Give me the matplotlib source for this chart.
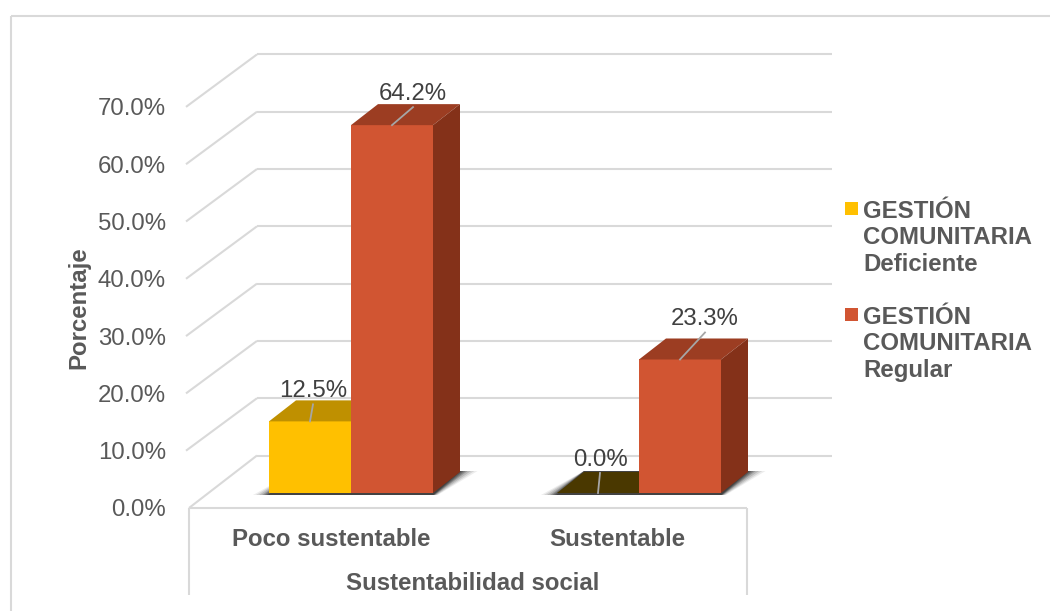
import matplotlib
matplotlib.use("Agg")
import matplotlib.pyplot as plt
from matplotlib.patches import Polygon, Rectangle

plt.rcParams['font.family'] = ['Liberation Sans', 'DejaVu Sans']

categories = ["Poco sustentable", "Sustentable"]
deficiente = [12.5, 0.0]
regular = [64.2, 23.3]
ticks = [0, 10, 20, 30, 40, 50, 60, 70]
series_names = ["GESTIÓN\nCOMUNITARIA\nDeficiente", "GESTIÓN\nCOMUNITARIA\nRegular"]

W, H = 1050, 611
PX_CAT = 288.0   # pixels per category
PX_PCT = 5.73    # pixels per percent
FS = 17.3

GRID = "#D9D9D9"
TXT = "#595959"
YELLOW = ("#FFC000", "#BF9000", "#8C6A00")
RED = ("#D15532", "#9C3D22", "#843119")
ZERO = "#4A3800"


def xp(px):
    return (px - 351) / PX_CAT


def yp(px):
    return (508 - px) / PX_PCT


fig = plt.figure(figsize=(W / 100, H / 100), dpi=100)
ax = fig.add_axes([0, 0, 1, 1])
ax.set_xlim(xp(0), xp(W))
ax.set_ylim(yp(H), yp(0))
ax.axis("off")

DX = 27 / PX_CAT
DY = 21 / PX_PCT
BAR_W = 82 / PX_CAT
BASE = yp(493)


def line(x0, y0, x1, y1, color=GRID, lw=1.5, z=1):
    ax.plot([xp(x0), xp(x1)], [yp(y0), yp(y1)], color=color, lw=lw, zorder=z,
            solid_capstyle="butt")


def shadow(left, right):
    # soft shadow on the floor, built from stacked see-through shapes
    for grow, alpha in [(16, .08), (13, .12), (10, .16), (7, .22), (5, .28), (3, .35), (1, .45)]:
        g = grow / PX_CAT
        pts = [(left - g, BASE - 2 / PX_PCT), (right + g * 0.3, BASE - 2 / PX_PCT),
               (right + DX + g * 1.1, BASE + DY + 1 / PX_PCT), (left + DX, BASE + DY + 1 / PX_PCT)]
        ax.add_patch(Polygon(pts, closed=True, fc="#262626", ec="none", alpha=alpha, zorder=2))


def box(left, value, colors, z):
    top = BASE + value
    ax.add_patch(Rectangle((left, BASE), BAR_W, value, fc=colors[0], ec="none", zorder=z))
    ax.add_patch(Polygon([(left, top), (left + BAR_W, top), (left + BAR_W + DX, top + DY),
                          (left + DX, top + DY)], closed=True, fc=colors[1], ec="none", zorder=z))
    ax.add_patch(Polygon([(left + BAR_W, BASE), (left + BAR_W + DX, BASE + DY),
                          (left + BAR_W + DX, top + DY), (left + BAR_W, top)], closed=True,
                         fc=colors[2], ec="none", zorder=z))


# chart frame
line(11, 16, W, 16)
line(11, 16, 11, H)

# back wall gridlines and axis ticks
for t in ticks:
    y_front = 508 - t * PX_PCT
    y_back = y_front - 52.5
    x_front = 189 if t == 0 else 186
    line(x_front, y_front, 257, y_back)
    line(257, y_back, 832, y_back)
    ax.text(xp(166), t - 2.5 / PX_PCT, f"{t:.1f}%", ha="right", va="center", fontsize=FS, color=TXT)

# category box under the floor
line(189, 508, 747, 508)
line(189, 508, 189, 595)
line(747, 508, 747, 595)

for i in range(len(categories)):
    left = i - BAR_W
    shadow(left, i + BAR_W)
    if deficiente[i] > 0:
        box(left, deficiente[i], YELLOW, 3)
    else:
        ax.add_patch(Polygon([(left, BASE), (left + BAR_W, BASE), (left + BAR_W + DX, BASE + DY),
                              (left + DX, BASE + DY)], closed=True, fc=ZERO, ec="none", zorder=3))
    box(i, regular[i], RED, 4)

# data labels with their leader lines
label_off = [[(3, -33), (21, -34)], [(2, -36), (25, -43)]]
for i in range(len(categories)):
    for j, val in enumerate((deficiente[i], regular[i])):
        left = i - BAR_W + j * BAR_W
        x_mid = left + BAR_W / 2
        y_top = BASE + val
        ox, oy = label_off[i][j]
        ax.plot([x_mid, x_mid + ox / PX_CAT], [y_top, y_top + (-oy - 16) / PX_PCT],
                color="#A6A6A6", lw=1.3, zorder=5)
        ax.text(x_mid + ox / PX_CAT, y_top + (-oy - 2.5) / PX_PCT, f"{val:.1f}%", ha="center",
                va="center", fontsize=FS, color="#404040", zorder=6)

# axis titles and category names
for cat, px in zip(categories, (331, 617)):
    ax.text(xp(px), yp(539), cat, ha="center", va="center", fontsize=FS, fontweight="bold", color=TXT)
ax.text(xp(473), yp(583), "Sustentabilidad social", ha="center", va="center", fontsize=FS,
        fontweight="bold", color=TXT)
ax.text(xp(79), yp(308), "Porcentaje", rotation=90, ha="center", va="center", fontsize=FS,
        fontweight="bold", color=TXT)

# legend
for name, col, yc in zip(series_names, (YELLOW[0], RED[0]), (238, 344)):
    ax.add_patch(Rectangle((xp(845), yp(yc - 23)), 13 / PX_CAT, 13 / PX_PCT, fc=col, ec="none"))
    ax.text(xp(863), yp(yc), name, ha="left", va="center", fontsize=FS, fontweight="bold",
            color=TXT, linespacing=1.2)

fig.savefig("out.png", dpi=100)
